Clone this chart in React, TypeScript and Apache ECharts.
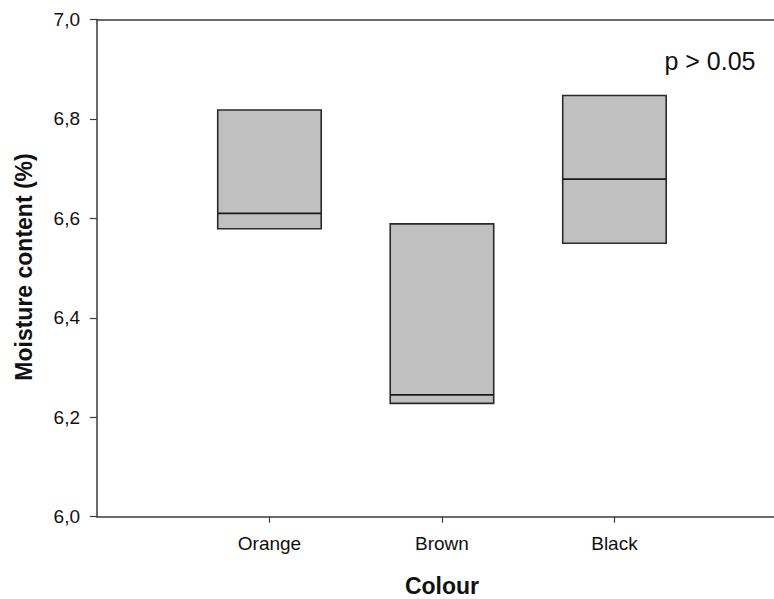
import React, { useEffect, useRef } from "react";
import * as echarts from "echarts";

const categories = ["Orange", "Brown", "Black"];
const lowerValues = [6.579, 6.228, 6.55];
const medianValues = [6.61, 6.245, 6.679];
const upperValues = [6.818, 6.589, 6.847];
const yTicks = [6.0, 6.2, 6.4, 6.6, 6.8, 7.0];
const yTitle = "Moisture content (%)";
const xTitle = "Colour";
const pText = "p > 0.05";

const FONT = "Liberation Sans, Arial, sans-serif";

export default function App() {
  const ref = useRef<HTMLDivElement>(null);
  useEffect(() => {
    if (!ref.current) return;
    const chart = echarts.init(ref.current, null, { renderer: "svg" });
    const data = categories.map((c, i) => [i + 1, lowerValues[i], medianValues[i], upperValues[i]]);
    const axisColor = "#3a3a3a";
    chart.setOption({
      animation: false,
      backgroundColor: "#ffffff",
      grid: { left: 97, top: 19.5, right: 0, bottom: 82.3, containLabel: false },
      xAxis: [
        {
          type: "value",
          min: 0,
          max: 3.925,
          interval: 1,
          splitLine: { show: false },
          axisLine: { show: true, onZero: false, lineStyle: { color: axisColor, width: 1.5 } },
          axisTick: {
            show: true,
            customValues: [1, 2, 3],
            length: 6,
            lineStyle: { color: axisColor, width: 1.2 },
          },
          axisLabel: {
            customValues: [1, 2, 3],
            formatter: (v: number) => categories[Math.round(v) - 1] ?? "",
            color: "#111",
            fontFamily: FONT,
            fontSize: 19,
            margin: 17,
          },
        },
        {
          type: "value",
          position: "top",
          min: 0,
          max: 3.925,
          splitLine: { show: false },
          axisLine: { show: true, onZero: false, lineStyle: { color: axisColor, width: 1.5 } },
          axisTick: { show: false },
          axisLabel: { show: false },
        },
      ],
      yAxis: {
        type: "value",
        min: 6,
        max: 7,
        interval: 0.2,
        splitLine: { show: false },
        axisLine: { show: true, onZero: false, lineStyle: { color: axisColor, width: 1.5 } },
        axisTick: {
          show: true,
          customValues: yTicks,
          length: 7,
          lineStyle: { color: axisColor, width: 1.2 },
        },
        axisLabel: {
          customValues: yTicks,
          formatter: (v: number) => v.toFixed(1).replace(".", ","),
          color: "#111",
          fontFamily: FONT,
          fontSize: 19,
          margin: 17,
        },
      },
      series: [
        {
          type: "custom",
          xAxisIndex: 0,
          yAxisIndex: 0,
          data,
          encode: { x: 0, y: [1, 2, 3] },
          renderItem: (params: any, api: any) => {
            const x = api.value(0);
            const lo = api.coord([x, api.value(1)]);
            const med = api.coord([x, api.value(2)]);
            const hi = api.coord([x, api.value(3)]);
            const w = api.size([0.6, 0])[0];
            const left = lo[0] - w / 2;
            return {
              type: "group",
              children: [
                {
                  type: "rect",
                  shape: { x: left, y: hi[1], width: w, height: lo[1] - hi[1] },
                  style: { fill: "#c0c0c0", stroke: "#2a2a2a", lineWidth: 1.6 },
                },
                {
                  type: "line",
                  shape: { x1: left, y1: med[1], x2: left + w, y2: med[1] },
                  style: { stroke: "#1a1a1a", lineWidth: 1.6 },
                },
              ],
            };
          },
        },
      ],
      graphic: [
        {
          type: "text",
          x: 24,
          y: 267,
          rotation: Math.PI / 2,
          style: {
            text: yTitle,
            fontFamily: FONT,
            fontSize: 23,
            fontWeight: "bold",
            fill: "#111",
            align: "center",
            verticalAlign: "middle",
          },
        },
        {
          type: "text",
          x: 442,
          y: 586,
          style: {
            text: xTitle,
            fontFamily: FONT,
            fontSize: 23,
            fontWeight: "bold",
            fill: "#111",
            align: "center",
            verticalAlign: "middle",
          },
        },
        {
          type: "text",
          x: 710,
          y: 61,
          style: {
            text: pText,
            fontFamily: FONT,
            fontSize: 25,
            fill: "#111",
            align: "center",
            verticalAlign: "middle",
          },
        },
      ],
    });
    return () => chart.dispose();
  }, []);
  return (
    <div
      ref={ref}
      style={{ position: "fixed", left: 0, top: 0, width: 774, height: 599, background: "#fff" }}
    />
  );
}
